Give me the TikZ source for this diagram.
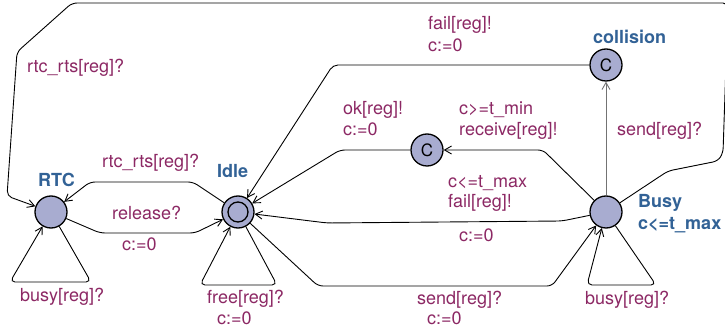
\documentclass[tikz,border=0pt]{standalone}
\usepackage{fontspec}
\setmainfont{TeX Gyre Heros}
\usetikzlibrary{arrows.meta}
\definecolor{labcol}{RGB}{140,40,100}
\definecolor{namecol}{RGB}{50,98,150}
\definecolor{locfill}{RGB}{168,172,208}
\tikzset{
  loc/.style={circle, draw=black, line width=1.3pt, fill=locfill, minimum size=32pt, inner sep=0pt, font=\fontsize{17}{17}\selectfont},
  lab/.style={anchor=west, inner sep=0pt, text=labcol, font=\fontsize{18}{21}\selectfont, text height=13pt, text depth=4pt},
  locname/.style={anchor=west, inner sep=0pt, text=namecol, font=\fontsize{18}{21}\selectfont\bfseries, text height=13pt, text depth=4pt},
  edge/.style={draw=black, line width=0.9pt, rounded corners=5pt, -{Straight Barb[length=7pt,width=8pt]}},
}
\begin{document}
\begin{tikzpicture}[x=1pt,y=-1pt]
\useasboundingbox (0,0) rectangle (725,328);
\clip (0,0) rectangle (725,328);
% locations
\node[loc] (rtc) at (51,212) {};
\node[loc] (idle) at (238,212) {};
\draw[line width=1.3pt] (idle.center) circle (10pt);
\node[loc] (busy) at (606,212) {};
\node[loc] (coll) at (606,65) {C};
\node[loc] (cm) at (427,150) {C};
% names
\node[locname] (nrtc) at (38,182) {RTC};
\node[locname] (nidle) at (217,173) {Idle};
\node[locname] (ncoll) at (593,39) {collision};
\node[locname] (nbusy) at (638,203) {Busy};
\node[locname] (ibusy) at (638,225) {c<=t\_max};
% edges
\draw[edge] (busy) -- (668,171) -- (718,161) -- (723,153) -- (728,3) -- (72,3) -- (17,52) -- (7,196) -- (rtc);
\draw[edge] (idle) -- (193,182) -- (90,182) -- (rtc);
\draw[edge] (rtc) -- (100,233) -- (195,233) -- (idle);
\draw[edge] (rtc) -- (91,282) -- (10,282) -- (rtc);
\draw[edge] (idle) -- (277,285) -- (200,285) -- (idle);
\draw[edge] (busy) -- (656,285) -- (587,285) -- (busy);
\draw[edge] (idle) -- (318,286) -- (552,286) -- (busy);
\draw[edge] (busy) -- (562,221) -- (327,223) -- (idle);
\draw[edge] (busy) -- (543,150) -- (cm);
\draw[edge] (cm) -- (340,150) -- (idle);
\draw[edge] (coll) -- (333,65) -- (idle);
\draw[edge, draw=black!55] (busy) -- (coll);
% labels
\node[lab] (l1) at (27,68) {rtc\_rts[reg]?};
\node[lab] (l2) at (102,163) {rtc\_rts[reg]?};
\node[lab] (l3) at (112,215) {release?};
\node[lab] (l4) at (122,246) {c:=0};
\node[lab] (l5) at (20,297) {busy[reg]?};
\node[lab] (l6) at (207,299) {free[reg]?};
\node[lab] (l7) at (217,320) {c:=0};
\node[lab] (l8) at (428,25) {fail[reg]!};
\node[lab] (l9) at (428,47) {c:=0};
\node[lab] (l10) at (343,110) {ok[reg]!};
\node[lab] (l11) at (343,131) {c:=0};
\node[lab] (l12) at (459,110) {c>=t\_min};
\node[lab] (l13) at (459,131) {receive[reg]!};
\node[lab] (l14) at (617,131) {send[reg]?};
\node[lab] (l15) at (448,183) {c<=t\_max};
\node[lab] (l16) at (448,203) {fail[reg]!};
\node[lab] (l17) at (459,237) {c:=0};
\node[lab] (l18) at (417,300) {send[reg]?};
\node[lab] (l19) at (427,320) {c:=0};
\node[lab] (l20) at (585,300) {busy[reg]?};
\end{tikzpicture}
\end{document}
